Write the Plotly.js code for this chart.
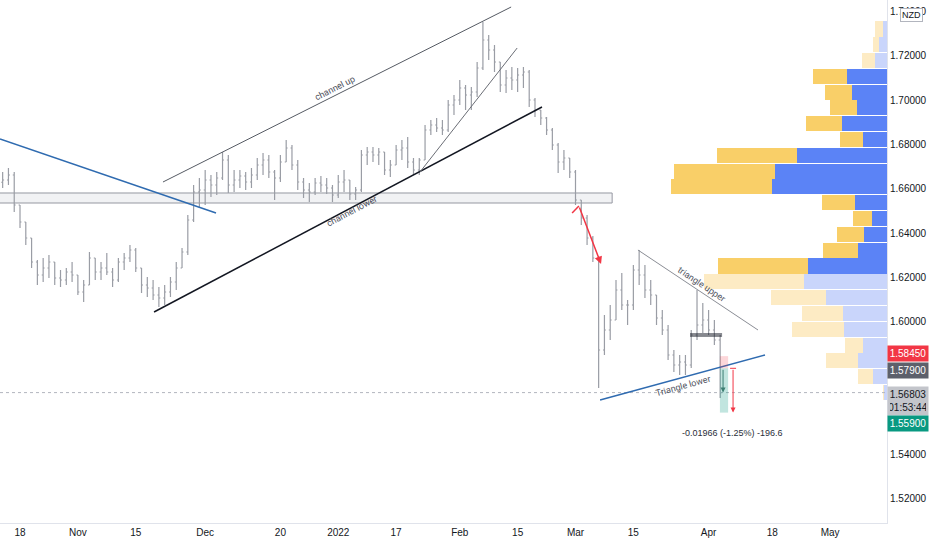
<!DOCTYPE html>
<html><head><meta charset="utf-8">
<script src="https://cdn.plot.ly/plotly-3.0.1.min.js"></script>
<style>html,body{margin:0;padding:0;background:#fff}#chart{width:932px;height:550px}</style>
</head><body><div id="chart"></div>
<script>
// ---- daily OHLC (NZD pair) ----
const startDate = '2021-10-13';
const firstOpen = 1.66300;
const highs = [1.66763,1.66943,1.66763,1.65273,1.64505,1.63783,1.62790,1.62880,1.63016,1.62699,
1.62338,1.62429,1.62699,1.62113,1.61887,1.63151,1.62880,1.62699,1.63106,1.62429,
1.62880,1.63106,1.63467,1.63332,1.62429,1.62022,1.61887,1.61571,1.61661,1.62022,
1.62699,1.63332,1.64821,1.66176,1.66492,1.66853,1.66627,1.66763,1.67666,1.67530,
1.66853,1.66853,1.66763,1.66943,1.67395,1.67621,1.67530,1.66853,1.67530,1.68207,
1.67982,1.67304,1.66492,1.66266,1.66492,1.66582,1.66492,1.66176,1.66627,1.66853,
1.66402,1.66086,1.67756,1.67891,1.67891,1.67846,1.67666,1.67304,1.67982,1.68207,
1.68343,1.67395,1.67395,1.68885,1.69110,1.69201,1.69110,1.70013,1.70239,1.70916,
1.70691,1.70600,1.71729,1.73535,1.72948,1.72496,1.71729,1.71368,1.71503,1.71458,
1.71503,1.71368,1.70103,1.69562,1.69246,1.68749,1.68072,1.67756,1.67395,1.66853,
1.65499,1.64821,1.63873,1.62970,1.60307,1.60758,1.61887,1.62203,1.60984,1.62564,
1.63241,1.62564,1.61887,1.61210,1.60532,1.59855,1.58727,1.58501,1.58501,1.59629,
1.61435,1.60848,1.60532,1.60081,1.59404];
const lows = [1.66040,1.66176,1.64957,1.64234,1.63467,1.62429,1.61661,1.61797,1.61977,1.61661,
1.61571,1.61661,1.61797,1.61210,1.60894,1.61661,1.61887,1.61887,1.62113,1.61571,
1.61797,1.62338,1.62699,1.62248,1.61300,1.61119,1.60984,1.60668,1.60758,1.61119,
1.61435,1.62429,1.63016,1.64505,1.65137,1.65273,1.65634,1.65724,1.66402,1.65815,
1.65860,1.66040,1.65950,1.66040,1.66402,1.66627,1.66492,1.65499,1.66311,1.67214,
1.66853,1.65950,1.65589,1.65408,1.65724,1.65860,1.65769,1.65408,1.65589,1.65860,
1.65499,1.65499,1.65860,1.67079,1.67214,1.67079,1.66627,1.66537,1.67079,1.67304,
1.66943,1.66627,1.66627,1.67304,1.68433,1.68569,1.68433,1.68569,1.69336,1.69788,
1.69562,1.69562,1.70149,1.71368,1.71819,1.71277,1.70374,1.70329,1.70465,1.70374,
1.70555,1.69697,1.69246,1.68885,1.68433,1.67756,1.66718,1.66853,1.66492,1.65273,
1.64370,1.63467,1.62699,1.57011,1.58501,1.59178,1.60081,1.60532,1.59855,1.60532,
1.61661,1.61074,1.60758,1.59855,1.59404,1.58275,1.57733,1.57598,1.57598,1.57914,
1.59178,1.59494,1.59404,1.58952,1.56559];
const closes = [1.66402,1.66627,1.65273,1.64505,1.63783,1.62699,1.62113,1.62429,1.62699,1.61977,
1.61887,1.62248,1.62113,1.61345,1.61661,1.62880,1.62248,1.62429,1.62248,1.61887,
1.62699,1.62880,1.63241,1.62429,1.61661,1.61526,1.61210,1.61074,1.61345,1.61797,
1.62429,1.63151,1.64596,1.65860,1.65950,1.66402,1.66176,1.66492,1.67304,1.66176,
1.66402,1.66582,1.66311,1.66627,1.67079,1.67304,1.66763,1.66492,1.67214,1.67846,
1.67079,1.66311,1.65950,1.65860,1.66266,1.66176,1.66040,1.65724,1.66311,1.66402,
1.65769,1.65950,1.67530,1.67666,1.67530,1.67666,1.66853,1.67079,1.67756,1.67846,
1.67214,1.66853,1.67304,1.68659,1.68885,1.68749,1.68659,1.69788,1.70013,1.70555,
1.70239,1.70374,1.71458,1.72722,1.72271,1.71729,1.70691,1.71007,1.70916,1.71142,
1.71277,1.70013,1.69562,1.69201,1.68659,1.67982,1.67214,1.67395,1.66763,1.65499,
1.64686,1.63783,1.62880,1.58727,1.59629,1.60081,1.61435,1.60758,1.60758,1.62338,
1.62113,1.61435,1.61210,1.60171,1.59629,1.58501,1.58049,1.58185,1.58049,1.59404,
1.59855,1.60081,1.59629,1.59178,1.56803];

// ---- visible-range volume profile ----
const profilePrice = [1.7322,1.7251,1.7180,1.7108,1.7037,1.6966,1.6894,1.6823,1.6751,1.6680,1.6609,1.6537,
                      1.6466,1.6395,1.6323,1.6252,1.6181,1.6109,1.6038,1.5967,1.5895,1.5824,1.5752,1.5681];
const profileUp   = [4,8,12,40,35,30,45,24,90,112,115,32,15,23,29,79,83,61,44,43,24,29,14,3];
const profileDown = [8,6,13,34,27,27,36,23,80,101,101,33,19,27,35,90,100,55,41,52,18,32,15,1];
const inValueArea = [0,0,0,1,1,1,1,1,1,1,1,1,1,1,1,1,0,0,0,0,0,0,0,0];

// ---- axis ticks (1.56 / 1.58 are hidden behind price tags in the reference) ----
const xTickDates = ['2021-10-18','2021-11-01','2021-11-15','2021-12-01','2021-12-20','2022-01-03','2022-01-17',
                    '2022-02-01','2022-02-15','2022-03-01','2022-03-15','2022-04-01','2022-04-18','2022-05-02'];
const xTickText  = ['18','Nov','15','Dec','20','2022','17','Feb','15','Mar','15','Apr','18','May'];
const yTicks = [1.52,1.54,1.60,1.62,1.64,1.66,1.68,1.70,1.72,1.74];
const xRange = ['2021-10-12 13:00','2022-05-13 20:00'];

// ---- drawings (time, price anchors) ----
const blueDown      = [['2021-10-12 13:00',1.68253],['2021-12-02 21:00',1.64912]];
const channelUp     = [['2021-11-19 17:00',1.66311],['2022-02-11 21:00',1.74212]];
const channelLower  = [['2021-11-18 04:00',1.60442],['2022-02-21 05:00',1.69697]];
const steepLine     = [['2022-01-21 03:00',1.66763],['2022-02-14 22:00',1.72361]];
const zone          = [['2021-10-11',1.65363],['2022-03-09 08:00',1.65815]];
const triUpper      = [['2022-03-15 19:00',1.63241],['2022-04-13 13:00',1.59629]];
const triLower      = [['2022-03-07 06:00',1.56469],['2022-04-14 18:00',1.58501]];
const neckTop       = [['2022-03-28 19:00',1.59449],['2022-04-05 08:00',1.59449]];
const neckBottom    = [['2022-03-28 19:00',1.59359],['2022-04-05 08:00',1.59359]];
const redTick       = [['2022-02-28 10:00',1.64912],['2022-03-01 14:00',1.65228]];
const redArrow      = [['2022-03-01 14:00',1.65228],['2022-03-07 10:00',1.62609]];
const posStop = 1.58450, posEntry = 1.57900, posTarget = 1.55900, lastPrice = 1.56803;
const posTime = ['2022-04-04 23:00','2022-04-06 09:00'];
const pathArrow = [['2022-04-05 12:00',1.57900],['2022-04-05 12:00',1.56803]];
const measure = [['2022-04-07 05:30',1.57900],['2022-04-07 05:30',1.55900]];
const measureTick = [['2022-04-06 17:00',1.57900],['2022-04-07 18:00',1.57900]];
const labels = [
  {t:'channel up',     at:['2021-12-31 11:00',1.70555], ang:-26.7},
  {t:'channel lower',  at:['2022-01-05 09:00',1.65002], ang:-27.8},
  {t:'triangle upper', at:['2022-03-30 17:00',1.61706], ang:33.7},
  {t:'Triangle lower', at:['2022-03-25 14:00',1.57101], ang:-15.3}
];
const measureText = {t:'-0.01966 (-1.25%) -196.6', at:['2022-04-07 05:00',1.54979]};

// ---- build ----
function weekdays(start, n){
  const out=[]; const d=new Date(start+'T00:00:00Z');
  while(out.length<n){ const w=d.getUTCDay(); if(w!==0&&w!==6) out.push(d.toISOString().slice(0,10)); d.setUTCDate(d.getUTCDate()+1); }
  return out;
}
const dates = weekdays(startDate, closes.length);
const opens = [firstOpen].concat(closes.slice(0,-1));

const barGrey = '#9a9da5';
const price = {type:'ohlc', x:dates, open:opens, high:highs, low:lows, close:closes,
  increasing:{line:{color:barGrey,width:1.2}}, decreasing:{line:{color:barGrey,width:1.2}},
  tickwidth:0.25, xaxis:'x', yaxis:'y', hoverinfo:'skip', showlegend:false};

const upColors = inValueArea.map(v=>v?'#5b83f6':'#c9d5fb');
const dnColors = inValueArea.map(v=>v?'#f9cf68':'#fdebc4');
const vUp = {type:'bar', orientation:'h', y:profilePrice, x:profileUp, width:0.0068,
  marker:{color:upColors, line:{width:0}}, xaxis:'x2', yaxis:'y', hoverinfo:'skip', showlegend:false};
const vDn = {type:'bar', orientation:'h', y:profilePrice, x:profileDown, width:0.0068,
  marker:{color:dnColors, line:{width:0}}, xaxis:'x2', yaxis:'y', hoverinfo:'skip', showlegend:false};

function seg(p, color, width, dash){
  return {type:'line', xref:'x', yref:'y', x0:p[0][0], y0:p[0][1], x1:p[1][0], y1:p[1][1],
          line:{color:color, width:width, dash:dash||'solid'}};
}
const shapes = [
  {type:'rect', xref:'x', yref:'y', x0:zone[0][0], y0:zone[0][1], x1:zone[1][0], y1:zone[1][1],
   fillcolor:'rgba(200,202,210,0.25)', line:{color:'#9598a1', width:1}, layer:'below'},
  {type:'line', xref:'paper', yref:'y', x0:0, x1:1, y0:lastPrice, y1:lastPrice, line:{color:'#b2b5be', width:1, dash:'dot'}},
  seg(blueDown,'#2f6bb0',1.5),
  seg(channelUp,'#555a63',1),
  seg(channelLower,'#131722',1.5),
  seg(steepLine,'#6a6d75',1),
  seg(triUpper,'#8a8d95',1),
  seg(triLower,'#2f6bb0',1.5),
  seg(neckTop,'#131722',1),
  seg(neckBottom,'#131722',1),
  seg(redTick,'#f23645',1.5),
  {type:'rect', xref:'x', yref:'y', x0:posTime[0], x1:posTime[1], y0:posEntry, y1:posStop,
   fillcolor:'rgba(242,54,69,0.2)', line:{width:0}},
  {type:'rect', xref:'x', yref:'y', x0:posTime[0], x1:posTime[1], y0:posTarget, y1:posEntry,
   fillcolor:'rgba(8,153,129,0.25)', line:{width:0}},
  seg(measureTick,'#f23645',1)
];

const fontMain = 'Liberation Sans, Arial, sans-serif';
const annotations = [];
function arrow(p, color, width){
  annotations.push({xref:'x', yref:'y', axref:'x', ayref:'y', x:p[1][0], y:p[1][1], ax:p[0][0], ay:p[0][1],
    text:'', showarrow:true, arrowhead:2, arrowsize:1, arrowwidth:width, arrowcolor:color});
}
arrow(redArrow,'#f23645',1.5);
arrow(pathArrow,'#3d7f73',1);
arrow(measure,'#f23645',1);
labels.forEach(l=>annotations.push({xref:'x', yref:'y', x:l.at[0], y:l.at[1], text:l.t, textangle:l.ang,
  showarrow:false, font:{family:'Roboto, sans-serif', size:9, color:'#50535e'}}));
annotations.push({xref:'x', yref:'y', x:measureText.at[0], y:measureText.at[1], text:measureText.t,
  showarrow:false, font:{family:fontMain, size:9, color:'#2a2e39'}});
function priceTag(y, txt, bg, fg, shift, anchor){
  annotations.push({xref:'paper', yref:'y', x:1, xanchor:'left', y:y, yanchor:anchor||'middle', yshift:shift,
    text:txt, showarrow:false, bgcolor:bg, borderpad:2, width:36, align:'center',
    font:{family:fontMain, size:10, color:fg}});
}
priceTag(posStop,'1.58450','#f23645','#ffffff',3);
priceTag(posEntry,'1.57900','#5d606b','#ffffff',-2);
priceTag(lastPrice,'1.56803<br>01:53:44','#c3c5cb','#131722',7,'top');
priceTag(posTarget,'1.55900','#089981','#ffffff',-11);
annotations.push({xref:'paper', yref:'paper', x:912/887, y:1-15/523, xanchor:'center', yanchor:'middle',
  text:'NZD', showarrow:false, bgcolor:'#ffffff', bordercolor:'#b2b5be', borderwidth:1, borderpad:1,
  font:{family:fontMain, size:9, color:'#131722'}});

const layout = {
  width:932, height:550, margin:{l:0, r:45, t:0, b:27},
  paper_bgcolor:'#ffffff', plot_bgcolor:'#ffffff', showlegend:false, hovermode:false, barmode:'stack',
  xaxis:{type:'date', range:xRange, rangebreaks:[{bounds:['sat','mon']}], rangeslider:{visible:false},
    tickvals:xTickDates, ticktext:xTickText, showgrid:false, zeroline:false, showline:true, linecolor:'#e0e3eb',
    ticks:'', tickfont:{family:fontMain, size:10, color:'#131722'}, fixedrange:true},
  xaxis2:{overlaying:'x', anchor:'y', range:[887,0], visible:false, fixedrange:true},
  yaxis:{side:'right', range:[1.50916,1.74528], tickvals:yTicks, tickformat:'.5f', showgrid:false, zeroline:false,
    showline:true, linecolor:'#e0e3eb', ticks:'', tickfont:{family:fontMain, size:10, color:'#131722'}, fixedrange:true},
  shapes:shapes, annotations:annotations
};
Plotly.newPlot('chart', [vUp, vDn, price], layout, {staticPlot:true, displayModeBar:false});
</script></body></html>
